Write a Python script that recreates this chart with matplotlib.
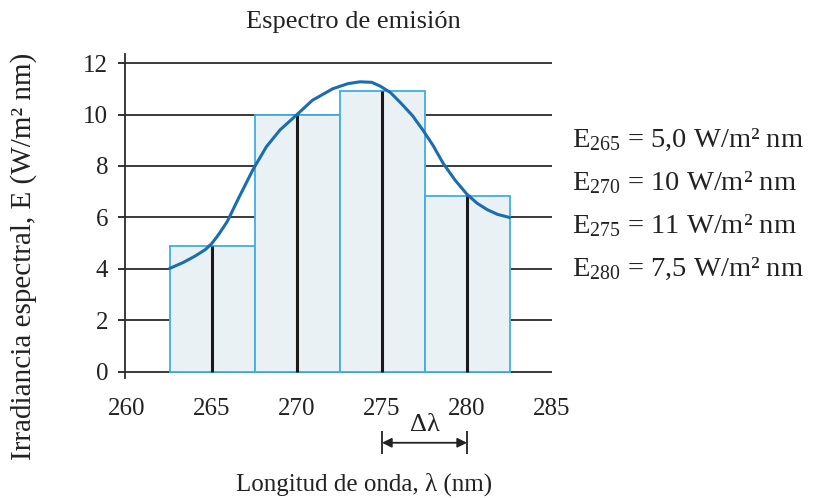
import numpy as np
import matplotlib.pyplot as plt

plt.rcParams['font.family'] = ['Liberation Serif', 'DejaVu Serif']
plt.rcParams['mathtext.fontset'] = 'custom'
plt.rcParams['mathtext.rm'] = 'Liberation Serif'
plt.rcParams['mathtext.default'] = 'regular'

# --- data ---
centers = [265, 270, 275, 280]
heights = [4.9, 10.0, 10.9, 6.85]
bar_width = 5

curve_x = [262.5, 263.3, 264.0, 264.6, 265.0, 265.4, 265.9, 266.6, 267.4, 268.2,
           269.0, 270.0, 270.9, 272.1, 273.0, 273.7, 274.4, 274.9, 275.5, 276.1,
           276.8, 277.4, 278.0, 278.6, 279.3, 280.0, 280.6, 281.2, 281.8, 282.5]
curve_y = [4.02, 4.25, 4.5, 4.75, 5.0, 5.35, 5.85, 6.8, 7.85, 8.75,
           9.4, 10.0, 10.55, 11.0, 11.2, 11.27, 11.25, 11.1, 10.85, 10.45,
           9.95, 9.4, 8.8, 8.1, 7.45, 6.9, 6.55, 6.3, 6.12, 6.0]

legend_lines = [r'E$_{265}$ = 5,0 W/m² nm',
                r'E$_{270}$ = 10 W/m² nm',
                r'E$_{275}$ = 11 W/m² nm',
                r'E$_{280}$ = 7,5 W/m² nm']

fig = plt.figure(figsize=(8.28, 4.98), dpi=100)
ax = fig.add_axes([125 / 828, 1 - 378.4 / 498, 427 / 828, 324.4 / 498])

# horizontal grid lines
for yv in range(0, 13, 2):
    ax.axhline(yv, color='#2b2b2b', lw=1.3, zorder=1)

ax.bar(centers, heights, width=bar_width, color='#eaf1f4',
       edgecolor='#41aee0', lw=1.3, zorder=2)
ax.vlines(centers, 0, heights, color='#1a1a1a', lw=2.2, zorder=3)
ax.plot(curve_x, curve_y, color='#1c6db0', lw=2.2, zorder=4,
        solid_capstyle='round')

ax.set_xlim(259.88, 285)
ax.set_ylim(-0.25, 12.35)
ax.set_xticks([260, 265, 270, 275, 280, 285])
ax.set_yticks(range(0, 13, 2))
ax.tick_params(axis='x', length=0, labelsize=18, pad=14, colors='#222222')
ax.tick_params(axis='y', length=5, width=1.3, labelsize=18, pad=7,
               colors='#222222')
for s in ['top', 'right', 'bottom']:
    ax.spines[s].set_visible(False)
ax.spines['left'].set_linewidth(1.3)
ax.spines['left'].set_color('#2b2b2b')

# delta lambda marker
ax.annotate('', xy=(275, -2.75), xytext=(280, -2.75),
            arrowprops=dict(arrowstyle='<|-|>', color='#222222', lw=1.3,
                            mutation_scale=14, shrinkA=0, shrinkB=0),
            annotation_clip=False)
ax.vlines([275, 280], -3.2, -2.3, color='#222222', lw=1.3, clip_on=False)
ax.text(277.5, -2.5, 'Δλ', ha='center', va='bottom', fontsize=19,
        color='#222222')

fig.text(353 / 828, 1 - 22 / 498, 'Espectro de emisión', ha='center',
         va='center', fontsize=19, color='#222222')
fig.text(364 / 828, 1 - 484 / 498, 'Longitud de onda, λ (nm)', ha='center',
         va='center', fontsize=18, color='#222222')
fig.text(24 / 828, 1 - 256 / 498, 'Irradiancia espectral, E (W/m² nm)',
         rotation=90, ha='center', va='center', fontsize=21, color='#222222')

for i, s in enumerate(legend_lines):
    fig.text(572 / 828, 1 - (140 + i * 43) / 498, s, ha='left', va='center',
             fontsize=20.5, color='#222222')

fig.savefig('out.png', dpi=100)
